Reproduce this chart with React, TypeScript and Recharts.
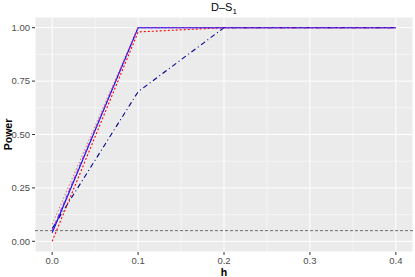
import { CartesianGrid, Label, Line, LineChart, ReferenceLine, XAxis, YAxis } from "recharts";

const hValues = [0, 0.1, 0.2, 0.3, 0.4];
const solidBlue = [0.04, 1, 1, 1, 1];
const purpleDash = [0.05, 1, 1, 1, 1];
const redDotted = [0.0, 0.98, 1, 1, 1];
const brownDotted = [0.08, 1, 1, 1, 1];
const navyDashDot = [0.06, 0.7, 1, 1, 1];

const xTicks = [0, 0.1, 0.2, 0.3, 0.4];
const yTicks = [0, 0.25, 0.5, 0.75, 1];
const xMinor = [0.05, 0.15, 0.25, 0.35];
const yMinor = [0.125, 0.375, 0.625, 0.875];
const alphaLevel = 0.05;

const data = hValues.map((h, i) => ({
	h,
	solidBlue: solidBlue[i],
	purpleDash: purpleDash[i],
	redDotted: redDotted[i],
	brownDotted: brownDotted[i],
	navyDashDot: navyDashDot[i],
}));

const font = "'Liberation Sans', Arial, sans-serif";

export default function App() {
	return (
		<div style={{ position: "absolute", left: 0, top: 0, width: 415, height: 277, fontFamily: font }}>
			<div
				style={{
					position: "absolute",
					top: 1,
					left: 35,
					width: 378,
					textAlign: "center",
					fontSize: 11,
					color: "#000",
				}}
			>
				D–S<sub style={{ fontSize: 8 }}>1</sub>
			</div>
			<LineChart
				width={415}
				height={277}
				data={data}
				margin={{ top: 17, right: 2, left: 0, bottom: 0 }}
			>
				<CartesianGrid fill="#EBEBEB" stroke="#FFFFFF" strokeWidth={1} />
				{xMinor.map((v) => (
					<ReferenceLine key={`xm${v}`} x={v} stroke="#FFFFFF" strokeWidth={0.5} />
				))}
				{yMinor.map((v) => (
					<ReferenceLine key={`ym${v}`} y={v} stroke="#FFFFFF" strokeWidth={0.5} />
				))}
				<XAxis
					dataKey="h"
					type="number"
					domain={[-0.02, 0.42]}
					ticks={xTicks}
					tickFormatter={(t) => t.toFixed(1)}
					height={25}
					axisLine={false}
					tickLine={{ stroke: "#333333" }}
					tickSize={3}
					tick={{ fill: "#4D4D4D", fontSize: 9.5, fontFamily: font }}
				>
					<Label
						value="h"
						position="insideBottom"
						offset={1}
						style={{ fontWeight: "bold", fontSize: 10.5, fill: "#000", fontFamily: font }}
					/>
				</XAxis>
				<YAxis
					type="number"
					domain={[-0.05, 1.05]}
					ticks={yTicks}
					tickFormatter={(t) => t.toFixed(2)}
					width={35}
					axisLine={false}
					tickLine={{ stroke: "#333333" }}
					tickSize={3}
					tick={{ fill: "#4D4D4D", fontSize: 9.5, fontFamily: font }}
				>
					<Label
						value="Power"
						angle={-90}
						position="insideLeft"
						offset={8}
						style={{ fontWeight: "bold", fontSize: 10.5, fill: "#000", fontFamily: font, textAnchor: "middle" }}
					/>
				</YAxis>
				<ReferenceLine y={alphaLevel} stroke="#6E6E6E" strokeDasharray="3 2" strokeWidth={1} />
				<Line dataKey="navyDashDot" stroke="#00008B" strokeWidth={1.1} strokeDasharray="5 3 1 3" dot={false} isAnimationActive={false} />
				<Line dataKey="brownDotted" stroke="#CD8C7A" strokeWidth={1.1} strokeDasharray="1.5 2" dot={false} isAnimationActive={false} />
				<Line dataKey="redDotted" stroke="#FF0000" strokeWidth={1.1} strokeDasharray="2 2" dot={false} isAnimationActive={false} />
				<Line dataKey="solidBlue" stroke="#0000FF" strokeWidth={1.1} dot={false} isAnimationActive={false} />
				<Line dataKey="purpleDash" stroke="#9B30C8" strokeWidth={1.1} strokeDasharray="4 3" dot={false} isAnimationActive={false} />
			</LineChart>
		</div>
	);
}
